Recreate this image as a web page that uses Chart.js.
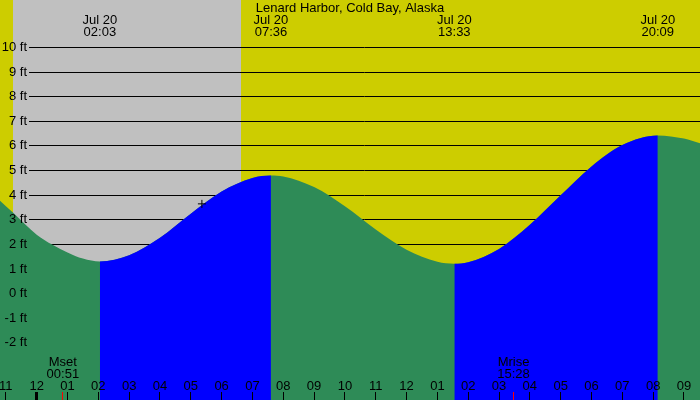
<!DOCTYPE html>
<html>
<head>
<meta charset="utf-8">
<script src="https://cdn.jsdelivr.net/npm/chart.js@4.4.1/dist/chart.umd.min.js"></script>
<style>
  html, body { margin: 0; padding: 0; background: #fff; }
  #wrap { width: 700px; height: 400px; }
</style>
</head>
<body>
<div id="wrap"><canvas id="tideChart" width="700" height="400"></canvas></div>
<script>
// Station and tide curve (hours after midnight Jul 20, feet)
const stationName = 'Lenard Harbor, Cold Bay, Alaska';
const tideHours = [-1.19, -0.77, 0, 0.5, 1, 1.5, 2.05, 3, 4, 5, 6, 7, 7.6, 8, 9, 10, 11, 12, 13, 13.55, 14, 15, 16, 17, 18, 19, 20.15, 21, 21.52];
const tideFeet  = [3.78, 3.3, 2.4, 2.0, 1.68, 1.43, 1.31, 1.56, 2.27, 3.25, 4.15, 4.7, 4.8, 4.76, 4.33, 3.55, 2.61, 1.79, 1.3, 1.22, 1.28, 1.82, 2.8, 4.0, 5.17, 6.04, 6.43, 6.3, 6.11];

// High / low labels along the top
const extremeHours = [2.05, 7.6, 13.55, 20.15];
const extremeDates = ['Jul 20', 'Jul 20', 'Jul 20', 'Jul 20'];
const extremeTimes = ['02:03', '07:36', '13:33', '20:09'];

// Night (grey) spans
const nightStart = [-0.77];
const nightEnd = [6.63];

// Moon events
const moonHours = [0.85, 15.47];
const moonNames = ['Mset', 'Mrise'];
const moonTimes = ['00:51', '15:28'];

// Axis ticks
const hourTicks = [-1, 0, 1, 2, 3, 4, 5, 6, 7, 8, 9, 10, 11, 12, 13, 14, 15, 16, 17, 18, 19, 20, 21];
const hourLabels = ['11', '12', '01', '02', '03', '04', '05', '06', '07', '08', '09', '10', '11', '12', '01', '02', '03', '04', '05', '06', '07', '08', '09'];
const footTicks = [-2, -1, 0, 1, 2, 3, 4, 5, 6, 7, 8, 9, 10];

// Marker on the curve
const markerHours = [5.36];
const markerFeet = [3.65];

const DAY = '#cdcd00';
const NIGHT = '#c0c0c0';
const RISING = '#0000ff';
const FALLING = '#2e8b57';
const CLEAR = 'rgba(0,0,0,0)';
const FONT = '13px "Liberation Sans", Arial, sans-serif';

const tideDecor = {
    id: 'tideDecor',
    beforeDraw(chart) {
        const { ctx, chartArea: a, scales: { x, y } } = chart;
        ctx.save();
        ctx.fillStyle = DAY;
        ctx.fillRect(a.left, a.top, a.width, a.height);
        ctx.fillStyle = NIGHT;
        nightStart.forEach((s, i) => {
            const x0 = Math.round(x.getPixelForValue(s));
            const x1 = Math.round(x.getPixelForValue(nightEnd[i]));
            ctx.fillRect(x0, a.top, x1 - x0, a.height);
        });
        // horizontal grid, later covered by the water
        ctx.strokeStyle = '#000';
        ctx.lineWidth = 1;
        footTicks.forEach(v => {
            const py = Math.floor(y.getPixelForValue(v)) + 0.5;
            ctx.beginPath();
            ctx.moveTo(29, py);
            ctx.lineTo(a.right, py);
            ctx.stroke();
        });
        ctx.restore();
    },
    afterDraw(chart) {
        const { ctx, chartArea: a, scales: { x, y } } = chart;
        ctx.save();
        ctx.font = FONT;
        ctx.fillStyle = '#000';
        ctx.textBaseline = 'alphabetic';

        // title
        ctx.textAlign = 'center';
        ctx.fillText(stationName, (a.left + a.right) / 2, 12);

        // high / low times
        extremeHours.forEach((h, i) => {
            const px = x.getPixelForValue(h);
            ctx.fillText(extremeDates[i], px, 24);
            ctx.fillText(extremeTimes[i], px, 36);
        });

        // y labels
        ctx.textAlign = 'right';
        footTicks.forEach(v => {
            ctx.fillText(v + ' ft', 27, Math.floor(y.getPixelForValue(v)) + 4);
        });

        // moon events
        ctx.textAlign = 'center';
        moonHours.forEach((h, i) => {
            const px = x.getPixelForValue(h);
            ctx.fillText(moonNames[i], px, 366);
            ctx.fillText(moonTimes[i], px, 378);
        });

        // hour labels and ticks
        hourTicks.forEach((h, i) => {
            const px = x.getPixelForValue(h);
            ctx.fillText(hourLabels[i], px, 390);
            if (h % 24 === 0) {
                ctx.fillRect(Math.round(px) - 2, 392, 3, 8);
            } else {
                ctx.fillRect(Math.floor(px), 392, 1, 8);
            }
        });
        ctx.fillStyle = '#ff0000';
        moonHours.forEach(h => {
            ctx.fillRect(Math.floor(x.getPixelForValue(h)), 392, 1, 8);
        });
        ctx.restore();
    }
};

const tidePoints = tideHours.map((h, i) => ({ x: h, y: tideFeet[i] }));

const ctx = document.getElementById('tideChart').getContext('2d');
new Chart(ctx, {
    type: 'line',
    data: {
        datasets: [{
            // marker
            data: markerHours.map((h, i) => ({ x: h, y: markerFeet[i] })),
            showLine: false,
            pointStyle: 'cross',
            pointRadius: 4,
            borderColor: '#000',
            borderWidth: 1,
            order: 0
        }, {
            // rising tide, blue, on top of the green
            data: tidePoints,
            fill: 'start',
            borderWidth: 0,
            borderColor: CLEAR,
            backgroundColor: CLEAR,
            pointRadius: 0,
            cubicInterpolationMode: 'monotone',
            segment: {
                backgroundColor: c => c.p1.parsed.y >= c.p0.parsed.y ? RISING : CLEAR,
                borderColor: CLEAR
            },
            order: 1
        }, {
            // whole water body, green
            data: tidePoints,
            fill: 'start',
            borderWidth: 0,
            borderColor: CLEAR,
            backgroundColor: FALLING,
            pointRadius: 0,
            cubicInterpolationMode: 'monotone',
            order: 2
        }]
    },
    options: {
        responsive: false,
        animation: false,
        layout: { padding: 0, autoPadding: false },
        plugins: { legend: { display: false }, tooltip: { enabled: false } },
        scales: {
            x: { type: 'linear', min: -1.19, max: 21.52, display: false },
            y: { type: 'linear', min: -4.315, max: 11.929, display: false }
        }
    },
    plugins: [tideDecor]
});
</script>
</body>
</html>
